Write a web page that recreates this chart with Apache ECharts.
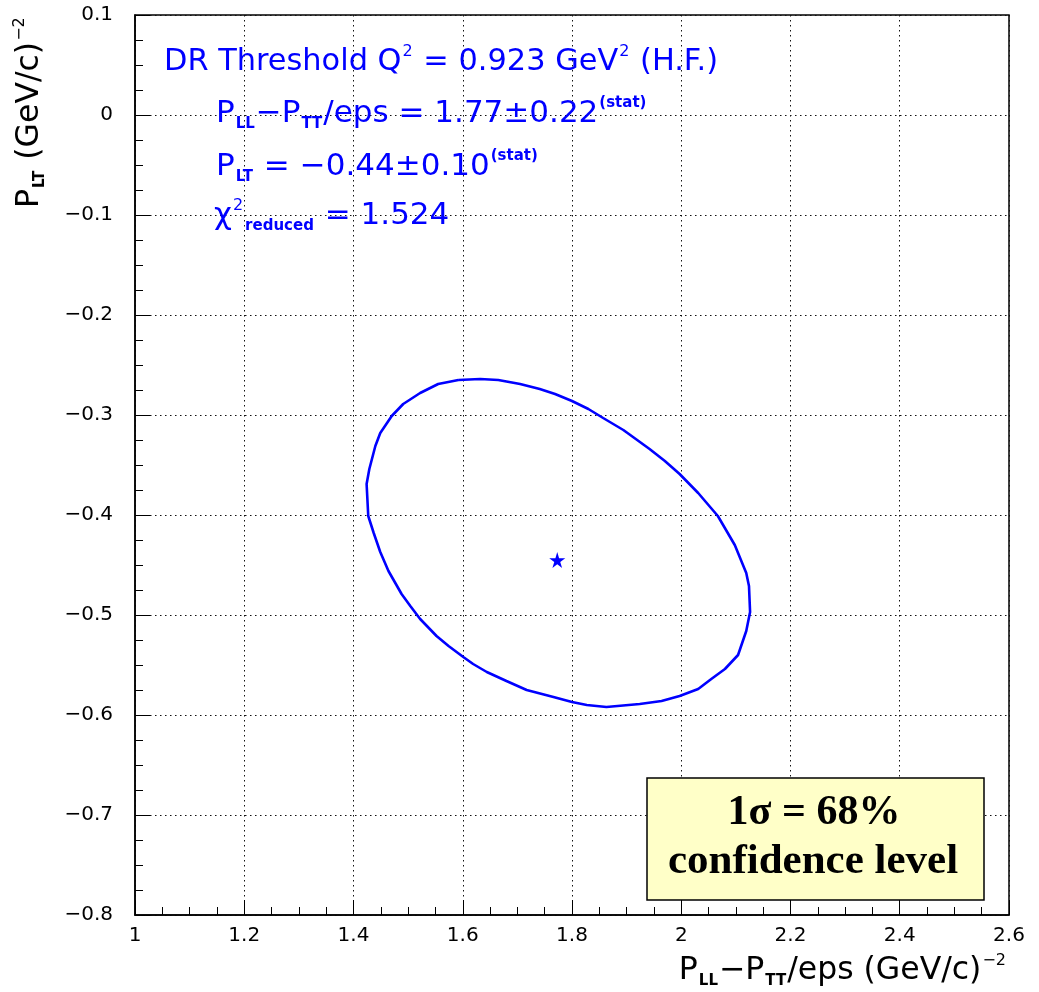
<!DOCTYPE html>
<html>
<head>
<meta charset="utf-8">
<script src="https://cdn.jsdelivr.net/npm/echarts@6/dist/echarts.min.js"></script>
<style>html,body{margin:0;padding:0;background:#fff;}#c{width:1039px;height:992px;}</style>
</head>
<body>
<div id="c"></div>
<script>
// Contour (1 sigma) points
const ellipseX = [1.592,1.632,1.665,1.705,1.741,1.769,1.800,1.830,1.857,1.894,1.942,1.970,1.997,2.031,2.067,2.098,2.119,2.124,2.126,2.119,2.104,2.080,2.055,2.031,1.997,1.964,1.924,1.863,1.827,1.800,1.766,1.717,1.680,1.644,1.619,1.601,1.574,1.552,1.522,1.504,1.488,1.464,1.449,1.437,1.427,1.424,1.429,1.440,1.449,1.470,1.491,1.522,1.555,1.592];
const ellipseY = [-0.265,-0.264,-0.265,-0.269,-0.274,-0.279,-0.286,-0.294,-0.303,-0.315,-0.334,-0.346,-0.359,-0.378,-0.401,-0.430,-0.458,-0.471,-0.497,-0.516,-0.540,-0.554,-0.564,-0.574,-0.581,-0.586,-0.589,-0.592,-0.590,-0.587,-0.582,-0.575,-0.566,-0.557,-0.549,-0.542,-0.531,-0.521,-0.504,-0.491,-0.479,-0.456,-0.437,-0.418,-0.401,-0.369,-0.354,-0.331,-0.318,-0.301,-0.289,-0.278,-0.269,-0.265];
const centerX = [1.773];
const centerY = [-0.445];
const xRange = [1, 2.6, 0.2];
const yRange = [-0.8, 0.1, 0.1];

const ellipseData = ellipseX.map((x, i) => [x, ellipseY[i]]);
const centerData = centerX.map((x, i) => [x, centerY[i]]);

const chart = echarts.init(document.getElementById('c'), null, {renderer: 'canvas'});
const BLUE = '#0000ff';
const SANS = '"DejaVu Sans", sans-serif';
const SERIF = '"Liberation Serif", "Times New Roman", serif';

function makeRich(color, mainSize) {
  return {
    m: {fontSize: mainSize, fontFamily: SANS, fill: color, lineHeight: 36, verticalAlign: 'middle'},
    sub: {fontSize: 15, fontFamily: SANS, fontWeight: 'bold', fill: color, lineHeight: 15, verticalAlign: 'bottom', padding: [0, 1, 0, 1]},
    sup: {fontSize: 16, fontFamily: SANS, fill: color, lineHeight: 16, verticalAlign: 'top', padding: [0, 1, 0, 1]},
    supb: {fontSize: 15, fontFamily: SANS, fontWeight: 'bold', fill: color, lineHeight: 16, verticalAlign: 'top', padding: [0, 0, 0, 1]}
  };
}
const richBlue = makeRich(BLUE, 31);
const richBlue1 = makeRich(BLUE, 30.4);
const richBlack = makeRich('#000', 31.5);

function blueLine(x, y, text, rich) {
  return {type: 'text', x: x, y: y, z: 100,
    style: {text: text, rich: rich || richBlue, align: 'left', verticalAlign: 'top'}};
}

const labelFmt = v => String(+v.toFixed(2)).replace('-', '\u2212');

const option = {
  animation: false,
  backgroundColor: '#fff',
  grid: {left: 135, right: 30, top: 15, bottom: 77, show: true, borderColor: '#000', borderWidth: 1.5, backgroundColor: 'transparent'},
  xAxis: {
    type: 'value', min: xRange[0], max: xRange[1], interval: xRange[2],
    axisLine: {show: true, onZero: false, lineStyle: {color: '#000', width: 1.5}},
    axisTick: {show: true, inside: true, length: 15, lineStyle: {color: '#000', width: 1}},
    minorTick: {show: true, splitNumber: 4, length: 8, lineStyle: {color: '#000', width: 1}},
    splitLine: {show: true, lineStyle: {color: '#111', width: 1, type: [1.5, 3.5]}},
    axisLabel: {color: '#000', fontSize: 20, fontFamily: SANS, margin: 11, formatter: labelFmt}
  },
  yAxis: {
    type: 'value', min: yRange[0], max: yRange[1], interval: yRange[2],
    axisLine: {show: true, onZero: false, lineStyle: {color: '#000', width: 1.5}},
    axisTick: {show: true, inside: true, length: 15, lineStyle: {color: '#000', width: 1}},
    minorTick: {show: true, splitNumber: 4, length: 8, lineStyle: {color: '#000', width: 1}},
    splitLine: {show: true, lineStyle: {color: '#111', width: 1, type: [1.5, 3.5]}},
    axisLabel: {color: '#000', fontSize: 20, fontFamily: SANS, margin: 22, formatter: labelFmt}
  },
  series: [
    {type: 'line', data: ellipseData, showSymbol: false, symbol: 'none', smooth: false,
      lineStyle: {color: BLUE, width: 2.6}, silent: true, z: 5},
    {type: 'scatter', data: centerData,
      symbol: 'path://M50,0 L61,35 L98,35 L68,57 L79,91 L50,70 L21,91 L32,57 L2,35 L39,35 Z',
      symbolSize: 16, itemStyle: {color: BLUE, opacity: 1}, z: 6}
  ],
  graphic: [
    blueLine(164, 44, '{m|DR Threshold Q}{sup|2}{m| = 0.923 GeV}{sup|2}{m| (H.F.)}', richBlue1),
    blueLine(216, 95.5, '{m|P}{sub|LL}{m|\u2212P}{sub|TT}{m|/eps = 1.77\u00b10.22}{supb|(stat)}'),
    blueLine(216, 149, '{m|P}{sub|LT}{m| = \u22120.44\u00b10.10}{supb|(stat)}'),
    blueLine(214, 198, '{m|\u03c7}{sup|2}{sub|reduced}{m| = 1.524}'),
    // x axis title
    {type: 'text', x: 1007, y: 953, z: 100,
      style: {text: '{m|P}{sub|LL}{m|\u2212P}{sub|TT}{m|/eps (GeV/c)}{sup|\u22122}', rich: richBlack, align: 'right', verticalAlign: 'top'}},
    // y axis title (rotated)
    {type: 'text', x: 12, y: 208, rotation: Math.PI / 2, z: 100,
      style: {text: '{m|P}{sub|LT}{m| (GeV/c)}{sup|\u22122}', rich: richBlack, align: 'left', verticalAlign: 'top'}},
    // confidence-level box
    {type: 'rect', z: 100, shape: {x: 647, y: 778, width: 337, height: 122},
      style: {fill: '#ffffc8', stroke: '#000', lineWidth: 1.5}},
    {type: 'text', x: 814, y: 813, z: 101,
      style: {text: '1\u03c3 = 68%', font: 'bold 42px ' + SERIF, fill: '#000', align: 'center', verticalAlign: 'middle'}},
    {type: 'text', x: 813, y: 862, z: 101,
      style: {text: 'confidence level', font: 'bold 43px ' + SERIF, fill: '#000', align: 'center', verticalAlign: 'middle'}}
  ]
};
chart.setOption(option);
</script>
</body>
</html>
